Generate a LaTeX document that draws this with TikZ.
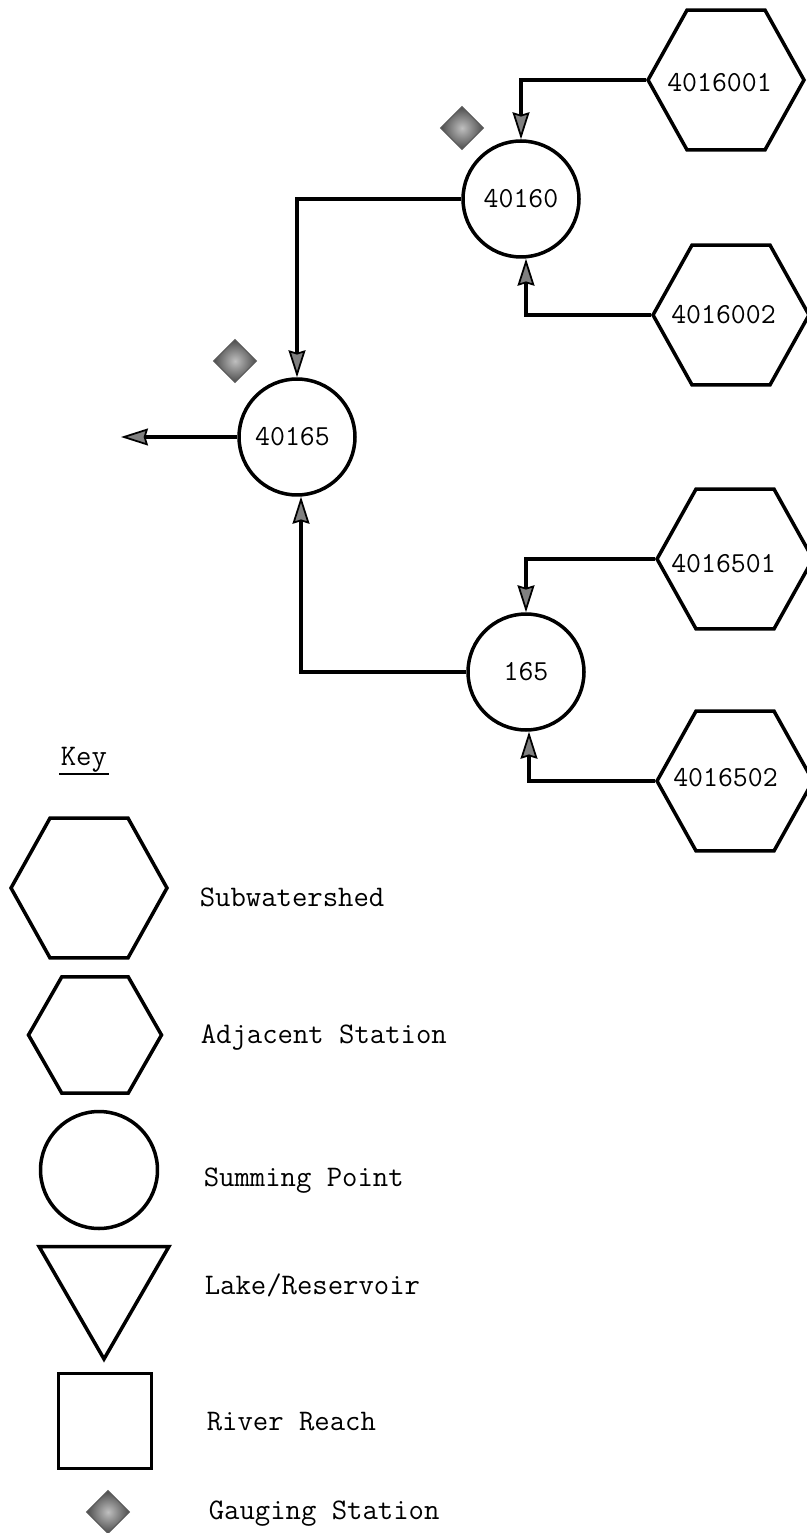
\documentclass[tikz,border=0pt]{standalone}
\usepackage{fontspec}
\usetikzlibrary{arrows.meta,shapes.geometric}

\begin{document}
\begin{tikzpicture}[
    x=0.02cm, y=-0.02cm,
    line width=2pt,
    font=\ttfamily\fontsize{16.5}{18}\selectfont,
    hexbox/.style={draw, regular polygon, regular polygon sides=6, inner sep=0pt, minimum size=3.12cm, yscale=1.035, transform shape},
    sumpt/.style={draw, circle, inner sep=0pt, minimum size=2.32cm},
    gauge/.style={draw=black!65, line width=0.6pt, diamond, inner sep=0pt, minimum size=0.86cm, shading=radial, inner color=black!25, outer color=black!70},
    keytext/.style={anchor=base west, inner sep=0pt, font=\ttfamily\fontsize{17}{18}\selectfont},
    flow/.style={-{Stealth[length=0.54cm,width=0.34cm,inset=0.05cm,line width=1pt,fill=black!50]}}
  ]
    \useasboundingbox (0,0) rectangle (806,1533);

    \node[hexbox, label={[xshift=-0.13cm,yshift=-0.06cm]center:4016001}] (hexa) at (726,80) {};
    \node[hexbox, label={[xshift=-0.15cm]center:4016002}] (hexb) at (731,315) {};
    \node[hexbox, label={[xshift=-0.23cm,yshift=-0.1cm]center:4016501}] (hexc) at (735,559) {};
    \node[hexbox, label={[xshift=-0.19cm,yshift=0.06cm]center:4016502}] (hexd) at (735,781) {};

    \node[sumpt] (sumb) at (521,199) {40160};
    \node[sumpt] (sumc) at (297,437) {40165\hspace*{0.18cm}};
    \node[sumpt] (suma) at (526,672) {165};

    \node[gauge] (gaugeb) at (462,128) {};
    \node[gauge] (gaugec) at (235,361) {};
    \coordinate (outc) at (121,437);

    \draw[flow] (hexa.west) -| (sumb.north);
    \draw[flow] (hexb.west) -| ([xshift=0.1cm]sumb.south);
    \draw[flow] (sumb.west) -| (sumc.north);
    \draw[flow] (sumc.west) -- (outc);
    \draw[flow] (hexc.west) -| (suma.north);
    \draw[flow] (hexd.west) -| ([xshift=0.06cm]suma.south);
    \draw[flow] (suma.west) -| ([xshift=0.08cm]sumc.south);

    \node[keytext] (keyhead) at (59,765) {Key};
    \draw[line width=1.1pt] (keyhead.south west) -- (keyhead.south east);

    \node[hexbox] (keysub) at (89,888) {};
    \node[hexbox, minimum size=2.66cm, yscale=0.975] (keyadj) at (95,1035) {};
    \node[sumpt, minimum size=2.34cm] (keysum) at (99,1170) {};
    \node[draw, regular polygon, regular polygon sides=3, shape border rotate=180, inner sep=0pt, minimum size=3cm] (keylake) at (104,1284) {};
    \node[draw, inner sep=0pt, minimum width=1.86cm, minimum height=1.9cm] (keyreach) at (105,1421) {};
    \node[gauge] (keygauge) at (108,1512) {};

    \node[keytext] (txtsub) at (198,906) {Subwatershed};
    \node[keytext] (txtadj) at (199,1043) {Adjacent Station};
    \node[keytext] (txtsum) at (202,1186) {Summing Point};
    \node[keytext] (txtlake) at (203,1294) {Lake/Reservoir};
    \node[keytext] (txtreach) at (205,1430) {River Reach};
    \node[keytext] (txtgauge) at (207,1519) {Gauging Station};
  \end{tikzpicture}
\end{document}
